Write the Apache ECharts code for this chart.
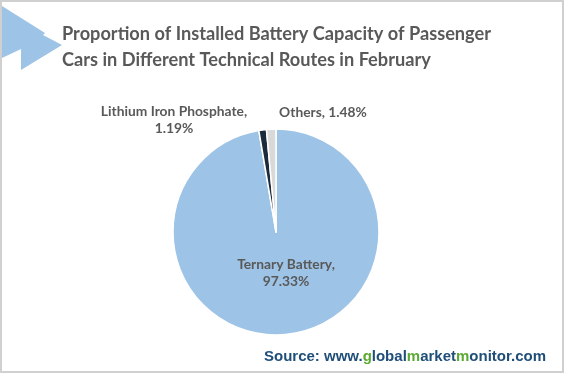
<!DOCTYPE html>
<html><head><meta charset="utf-8">
<script src="https://cdn.jsdelivr.net/npm/echarts@6/dist/echarts.min.js"></script>
<style>html,body{margin:0;padding:0;background:#fff}#c{width:567px;height:375px}</style>
</head><body><div id="c"></div>
<script>
const categories = ['Ternary Battery', 'Lithium Iron Phosphate', 'Others'];
const values = [97.33, 1.19, 1.48];
const colors = ['#9DC3E6', '#1C2B3C', '#D9D9D9'];
const titleLines = ['Proportion of Installed Battery Capacity of Passenger', 'Cars in Different Technical Routes in February'];

const chart = echarts.init(document.getElementById('c'), null, {renderer: 'canvas'});
const labelPos = [
  {x: 286, y: 273, align: 'center'},
  {x: 174, y: 120, align: 'center'},
  {x: 323, y: 113, align: 'center'}
];
chart.setOption({
  backgroundColor: '#fff',
  animation: false,
  graphic: [
    {type: 'rect', shape: {x: 1, y: 1, width: 562, height: 371}, style: {fill: 'none', stroke: '#D0D0D0', lineWidth: 2}, z: 0},
    {type: 'polygon', shape: {points: [[2,6],[45,33],[43,35],[62,45],[21,70],[21,49],[2,58]]}, style: {fill: '#9DC3E6'}, z: 1},
    {type: 'text', left: 62, top: 21, style: {text: titleLines.join('\n'), font: 'bold 18.2px Lato', fill: '#595959', lineHeight: 26}, z: 2},
    {type: 'text', right: 21, top: 349, style: {
      text: '{b|Source: www.}{g|g}{b|lobal}{g|m}{b|arket}{g|m}{b|onitor.com}',
      rich: {
        b: {font: 'bold 15px "Liberation Sans"', fill: '#1F4E79'},
        g: {font: 'bold 15px "Liberation Sans"', fill: '#5BAA32'}
      }
    }, z: 2}
  ],
  series: [{
    type: 'pie',
    center: [276, 232],
    radius: [0, 103],
    startAngle: 90,
    clockwise: true,
    itemStyle: {borderColor: '#fff', borderWidth: 1.5},
    label: {
      show: true,
      position: 'outside',
      formatter: p => p.name + ',\n' + p.value.toFixed(2) + '%',
      fontFamily: 'Lato',
      fontWeight: 'bold',
      fontSize: 13.8,
      color: '#595959',
      lineHeight: 17
    },
    labelLine: {show: false},
    labelLayout: function (p) {
      const l = labelPos[p.dataIndex];
      return {x: l.x, y: l.y, align: l.align, verticalAlign: 'middle'};
    },
    data: categories.map((c, i) => ({
      name: c, value: values[i], itemStyle: {color: colors[i]},
      label: i === 2 ? {formatter: p => p.name + ', ' + p.value.toFixed(2) + '%'} : {}
    }))
  }]
});
</script></body></html>
